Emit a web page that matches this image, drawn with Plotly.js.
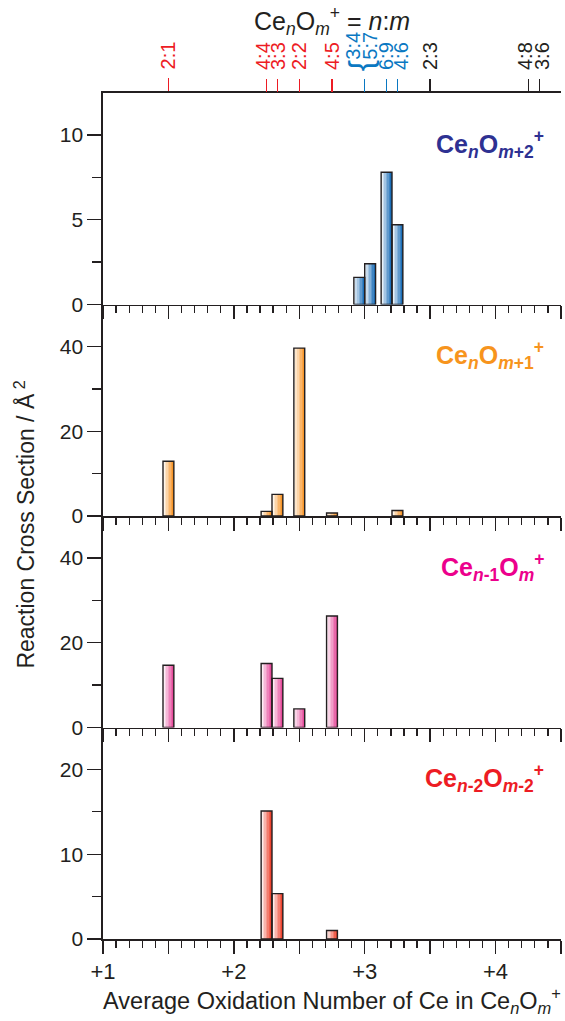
<!DOCTYPE html>
<html>
<head>
<meta charset="utf-8">
<script src="https://cdn.plot.ly/plotly-3.0.1.min.js"></script>
<style>
  html, body { margin: 0; padding: 0; background: #ffffff; }
  #chart { width: 565px; height: 1021px; }
</style>
</head>
<body>
<div id="chart"></div>
<script>
// ---- data (average oxidation number of Ce, reaction cross section / Å^2) ----
const panel1X = [3.0, 3.0, 3.167, 3.25];          // 3:4, 5:7, 6:9, 4:6
const panel1Y = [1.6, 2.4, 7.8, 4.7];
const panel2X = [1.5, 2.25, 2.333, 2.5, 2.75, 3.25];
const panel2Y = [12.9, 1.1, 5.1, 39.6, 0.7, 1.3];
const panel3X = [1.5, 2.25, 2.333, 2.5, 2.75];
const panel3Y = [14.7, 15.1, 11.6, 4.4, 26.3];
const panel4X = [2.25, 2.333, 2.75];
const panel4Y = [15.1, 5.35, 1.0];

// ---- top axis (n:m of CenOm+) ----
const redTickVals = [1.5, 2.25, 2.333, 2.5, 2.75];
const redTickText = ['2:1', '4:4', '3:3', '2:2', '4:5'];
const blueTickVals = [3.0, 3.167, 3.25];
const blueTickText = ['', '6:9', '4:6'];          // +3.0 is labelled by the brace below
const bracketLabels = ['3:4', '5:7'];             // both at +3.0
const blackTickVals = [3.5, 4.25, 4.333];
const blackTickText = ['2:3', '4:8', '3:6'];

// ---- bottom axis tick labels ----
const bottomTickVals = [1, 2, 3, 4];
const bottomTickText = ['+1', '+2', '+3', '+4'];

const panelLabels = [
  '<b>Ce<sub><i>n</i></sub>O<sub><i>m</i>+2</sub><sup>+</sup></b>',
  '<b>Ce<sub><i>n</i></sub>O<sub><i>m</i>+1</sub><sup>+</sup></b>',
  '<b>Ce<sub><i>n</i>-1</sub>O<sub><i>m</i></sub><sup>+</sup></b>',
  '<b>Ce<sub><i>n</i>-2</sub>O<sub><i>m</i>-2</sub><sup>+</sup></b>'
];

// ---- styles ----
const INK = '#231f20';
const FONT = 'Arial, "Liberation Sans", Helvetica, sans-serif';
const BAR_W = 0.083;
const N_STRIPS = 7;
const barFill = ['#1d6fb8', '#f7962a', '#e64d9c', '#ee4530'];
const labelColor = ['#2e3192', '#f7941d', '#ec008c', '#ed1c24'];
const RED = '#ed1c24', BLUE = '#0a78c2';
// small sideways nudges of crowded top labels (px)
const topLabelShift = { '4:4': -3, '3:3': 1, '4:6': 4, '4:8': -3, '3:6': 3 };

const xs = [panel1X, panel2X, panel3X, panel4X];
const ys = [panel1Y, panel2Y, panel3Y, panel4Y];
const axSuffix = ['', '2', '3', '4'];

const traces = [];
xs.forEach((x, i) => {
  const y = ys[i];
  const xa = 'x' + axSuffix[i], ya = 'y' + axSuffix[i];
  const baseOff = x.map((v, k) => (i === 0 ? (k === 0 ? -BAR_W : (k === 1 ? 0 : -BAR_W / 2)) : -BAR_W / 2));
  traces.push({
    type: 'bar', x: x, y: y, xaxis: xa, yaxis: ya,
    width: BAR_W, offset: baseOff,
    marker: { color: barFill[i], line: { width: 0 } },
    hoverinfo: 'x+y', showlegend: false
  });
  for (let s = 0; s < N_STRIPS; s++) {
    const a = 0.9 * (1 - s / (N_STRIPS - 1));
    if (a <= 0) continue;
    traces.push({
      type: 'bar', x: x, y: y, xaxis: xa, yaxis: ya,
      width: BAR_W / N_STRIPS,
      offset: baseOff.map(o => o + s * BAR_W / N_STRIPS),
      marker: { color: 'rgba(255,255,255,' + a.toFixed(3) + ')', line: { width: 0 } },
      hoverinfo: 'skip', showlegend: false
    });
  }
  traces.push({
    type: 'bar', x: x, y: y, xaxis: xa, yaxis: ya,
    width: BAR_W, offset: baseOff,
    marker: { color: 'rgba(0,0,0,0)', line: { color: INK, width: 1.4 } },
    hoverinfo: 'skip', showlegend: false
  });
});

const domains = [[0.75, 1], [0.5, 0.75], [0.25, 0.5], [0, 0.25]];
const yRanges = [[0, 12.47], [0, 49.9], [0, 49.9], [0, 24.95]];
const yDtick = [5, 20, 20, 10];

const layout = {
  width: 565,
  height: 1021,
  margin: { l: 103, r: 4, t: 93, b: 82 },
  paper_bgcolor: '#ffffff',
  plot_bgcolor: '#ffffff',
  font: { family: FONT, color: INK },
  barmode: 'overlay',
  bargap: 0,
  annotations: []
};

for (let i = 0; i < 4; i++) {
  const s = axSuffix[i];
  layout['xaxis' + s] = {
    anchor: 'y' + s,
    range: [1, 4.5],
    showline: true,
    linecolor: INK,
    linewidth: 1.6,
    showgrid: false,
    zeroline: false,
    ticks: 'outside',
    tick0: 1,
    dtick: 0.5,
    showticklabels: false,
    ticklen: 13,
    tickwidth: 1.3,
    tickcolor: INK,
    minor: { tick0: 1, dtick: 0.1, ticks: 'outside', ticklen: 7, tickwidth: 1.3, tickcolor: INK, showgrid: false },
    fixedrange: true
  };
  if (i > 0) layout['xaxis' + s].matches = 'x';
  layout['yaxis' + s] = {
    anchor: 'x' + s,
    domain: domains[i],
    range: yRanges[i],
    showline: true,
    linecolor: INK,
    linewidth: 1.6,
    showgrid: false,
    zeroline: false,
    ticks: 'outside',
    tick0: 0,
    dtick: yDtick[i],
    ticklen: 14,
    tickwidth: 1.3,
    tickcolor: INK,
    tickfont: { size: 21, color: INK, family: FONT },
    minor: { tick0: 0, dtick: yDtick[i] / 2, ticks: 'outside', ticklen: 9, tickwidth: 1.3, tickcolor: INK, showgrid: false },
    fixedrange: true
  };
  layout.annotations.push({
    xref: 'paper', yref: 'y' + s + ' domain',
    x: 0.968, y: 0.76,
    xanchor: 'right', yanchor: 'middle',
    text: panelLabels[i],
    showarrow: false,
    font: { family: FONT, size: 25, color: labelColor[i] }
  });
}

// bottom labelled axis (labels + title only; ticks drawn by xaxis4)
let axCount = 5;
const extraTraceAxes = [];
layout['xaxis' + axCount] = {
  overlaying: 'x4',
  anchor: 'y4',
  side: 'bottom',
  range: [1, 4.5],
  showline: false,
  showgrid: false,
  zeroline: false,
  ticks: 'outside',
  ticklen: 13,
  tickcolor: 'rgba(0,0,0,0)',
  tickmode: 'array',
  tickvals: bottomTickVals,
  ticktext: bottomTickText,
  tickfont: { size: 22, color: INK, family: FONT },
  title: {
    text: 'Average Oxidation Number of Ce in Ce<sub><i>n</i></sub>O<sub><i>m</i></sub><sup>+</sup>',
    font: { size: 23.5, color: INK, family: FONT },
    standoff: 2
  },
  fixedrange: true
};
extraTraceAxes.push({ ax: 'x' + axCount, ya: 'y4' });
axCount++;

// top n:m axis: one overlaying axis per tick so each can have its own colour / nudge
const topGroups = [
  { vals: redTickVals, text: redTickText, color: RED },
  { vals: blueTickVals, text: blueTickText, color: BLUE },
  { vals: blackTickVals, text: blackTickText, color: INK }
];
let firstTop = true;
topGroups.forEach(g => {
  g.vals.forEach((v, k) => {
    const lab = g.text[k];
    layout['xaxis' + axCount] = {
      overlaying: 'x',
      anchor: 'y',
      side: 'top',
      range: [1, 4.5],
      showline: firstTop,
      linecolor: INK,
      linewidth: 1.6,
      showgrid: false,
      zeroline: false,
      ticks: 'outside',
      tickmode: 'array',
      tickvals: [v],
      ticktext: [lab],
      showticklabels: lab !== '',
      tickangle: -90,
      ticklen: 13,
      tickwidth: 1.3,
      tickcolor: g.color,
      ticklabelstandoff: 5,
      ticklabelshift: topLabelShift[lab] || 0,
      tickfont: { size: 20, color: g.color, family: FONT },
      fixedrange: true
    };
    firstTop = false;
    extraTraceAxes.push({ ax: 'x' + axCount, ya: 'y' });
    axCount++;
  });
});
extraTraceAxes.forEach(e => {
  traces.push({ type: 'scatter', x: [], y: [], xaxis: e.ax, yaxis: e.ya, showlegend: false, hoverinfo: 'skip' });
});

// the two species at +3.0 (3:4 and 5:7) joined by a brace
const PX = 846; // plot height in px, to express pixel offsets in paper units
layout.annotations.push({
  xref: 'x', yref: 'paper', x: blueTickVals[0], xshift: -4, y: 1 + 20 / PX,
  xanchor: 'center', yanchor: 'bottom',
  text: '{', textangle: -90, showarrow: false,
  font: { family: FONT, size: 34, color: BLUE }
});
bracketLabels.forEach((lab, k) => {
  layout.annotations.push({
    xref: 'x', yref: 'paper', x: blueTickVals[0], xshift: k === 0 ? -12 : 5, y: 1 + 31 / PX,
    xanchor: 'center', yanchor: 'bottom',
    text: lab, textangle: -90, showarrow: false,
    font: { family: FONT, size: 20, color: BLUE }
  });
});

// top title
layout.annotations.push({
  xref: 'paper', yref: 'paper', x: 0.5, y: 1 + 72 / PX, xanchor: 'center', yanchor: 'middle',
  text: 'Ce<sub><i>n</i></sub>O<sub><i>m</i></sub><sup>+</sup> = <i>n</i>:<i>m</i>',
  showarrow: false,
  font: { family: FONT, size: 25, color: INK }
});

// y title shared by all panels
layout.annotations.push({
  xref: 'paper', yref: 'paper', x: -0.17, y: 0.49, xanchor: 'center', yanchor: 'middle',
  text: 'Reaction Cross Section / Å<sup> 2</sup>', textangle: -90,
  showarrow: false,
  font: { family: FONT, size: 23, color: INK }
});

Plotly.newPlot('chart', traces, layout, { displayModeBar: false, staticPlot: true });
</script>
</body>
</html>
